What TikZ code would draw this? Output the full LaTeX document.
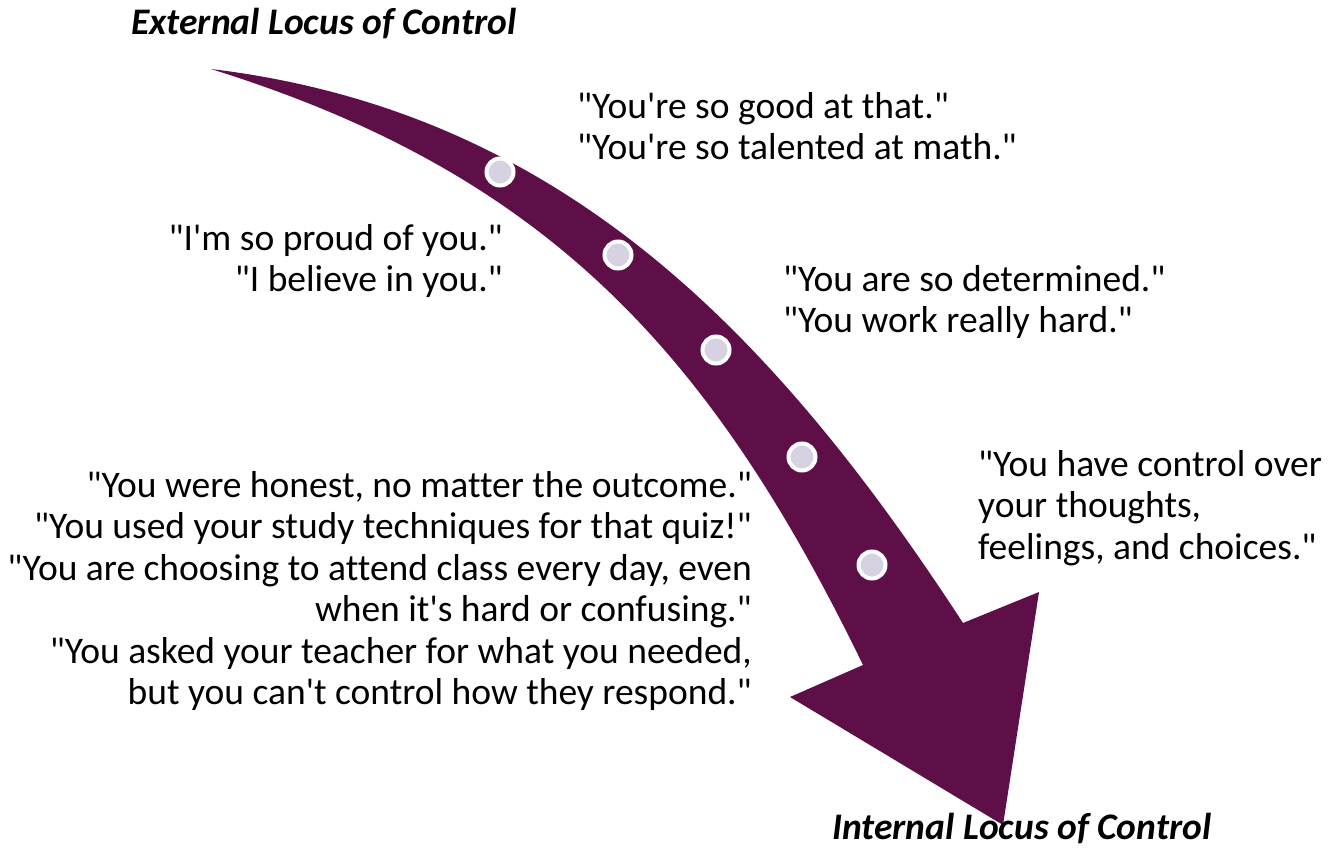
\documentclass[tikz,border=0pt]{standalone}
\usepackage{fontspec}
\newfontfamily\calibri{Carlito}[Ligatures=NoCommon]
\definecolor{arrowpurple}{HTML}{5E0F48}
\definecolor{dotgrey}{HTML}{D6D2E2}
\begin{document}
\begin{tikzpicture}[%
            x=1pt, y=-1pt,
            mypoint/.style={shape=circle,fill=dotgrey,draw=white,line width=4pt,minimum size=27pt,inner sep=0pt},
            myfill/.style={fill=arrowpurple},
            mytext/.style={inner sep=0pt,font=\calibri\fontsize{37.5}{41.5}\selectfont},
            mytitle/.style={inner sep=0pt,font=\calibri\fontsize{37.5}{41.5}\selectfont\bfseries\itshape}
    ]
        \useasboundingbox (0,0) rectangle (1336,856);

        \fill [myfill]
            (211,69) .. controls (559,111) and (772,330) .. (963,623)
            -- (1039,592) -- (1003,825) -- (790,697) -- (863,665)
            .. controls (710,350) and (545,173) .. (211,69) -- cycle;

        \path (500,172) node [mypoint] (p1) {}
              (618,255) node [mypoint] (p2) {}
              (716,350) node [mypoint] (p3) {}
              (802,457) node [mypoint] (p4) {}
              (872,565) node [mypoint] (p5) {};

        \node [mytitle, anchor=west] (external) at (131,24) {External Locus of Control};
        \node [mytitle, anchor=west] (internal) at (832,829) {Internal Locus of Control};

        \node [mytext, anchor=west, align=left] (talent) at (577,126)
            {"You're so good at that."\\"You're so talented at math."};
        \node [mytext, anchor=east, align=right] (proud) at (503,261)
            {"I'm so proud of you."\\"I believe in you."};
        \node [mytext, anchor=west, align=left] (effort) at (783,302)
            {"You are so determined."\\"You work really hard."};
        \node [mytext, anchor=west, align=left] (control) at (978,508)
            {"You have control over\\your thoughts,\\feelings, and choices."};
        \node [mytext, anchor=east, align=right] (choices) at (752,591)
            {"You were honest, no matter the outcome."\\
             "You used your study techniques for that quiz!"\\
             "You are choosing to attend class every day, even\\
             when it's hard or confusing."\\
             "You asked your teacher for what you needed,\\
             but you can't control how they respond."};
\end{tikzpicture}
\end{document}
